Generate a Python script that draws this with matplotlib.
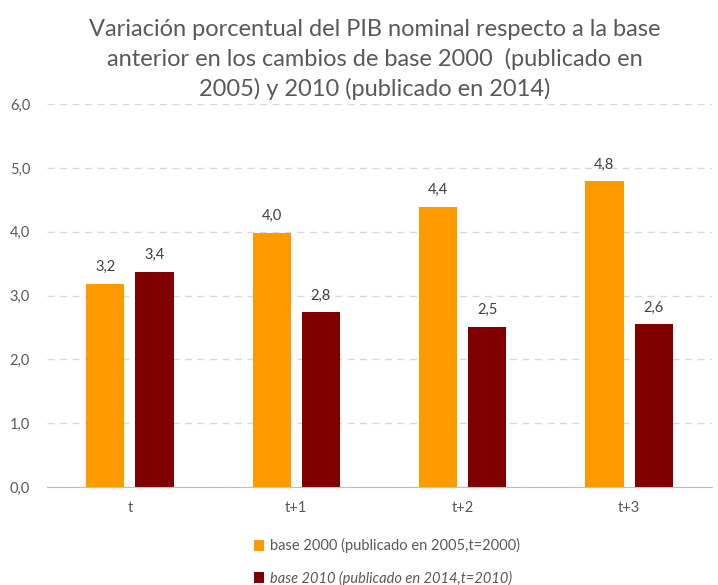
import numpy as np
import matplotlib.pyplot as plt
from matplotlib.ticker import FuncFormatter

plt.rcParams['font.family'] = ['Lato', 'DejaVu Sans']

# Datos
periodos = ['t', 't+1', 't+2', 't+3']
base_2000 = np.array([3.18, 3.98, 4.39, 4.79])
base_2010 = np.array([3.37, 2.74, 2.51, 2.55])
etiquetas_2000 = ['3,2', '4,0', '4,4', '4,8']
etiquetas_2010 = ['3,4', '2,8', '2,5', '2,6']

naranja = '#FF9900'
granate = '#800000'
gris_texto = '#595959'

fig = plt.figure(figsize=(7.18, 5.85), dpi=100)
ax = fig.add_axes([0.065, 0.1675, 0.927, 0.6545])

x = np.arange(len(periodos))
ancho = 0.23
desp = 0.148

b1 = ax.bar(x - desp, base_2000, ancho, color=naranja, zorder=3,
            label='base 2000 (publicado en 2005,t=2000)')
b2 = ax.bar(x + desp, base_2010, ancho, color=granate, zorder=3,
            label='base 2010 (publicado en 2014,t=2010)')

for rect, txt in zip(b1, etiquetas_2000):
    ax.annotate(txt, (rect.get_x() + rect.get_width() / 2, rect.get_height()),
                xytext=(0, 7), textcoords='offset points', ha='center', va='bottom',
                fontsize=10.5, color='#404040')
for rect, txt in zip(b2, etiquetas_2010):
    ax.annotate(txt, (rect.get_x() + rect.get_width() / 2, rect.get_height()),
                xytext=(0, 7), textcoords='offset points', ha='center', va='bottom',
                fontsize=10.5, color='#404040')

ax.set_xlim(-0.5, 3.5)
ax.set_ylim(0, 6)
ax.set_yticks(np.arange(0, 6.1, 1))
ax.yaxis.set_major_formatter(FuncFormatter(lambda v, p: f'{v:.1f}'.replace('.', ',')))
ax.set_xticks(x)
ax.set_xticklabels(periodos)
ax.tick_params(axis='both', length=0, labelsize=10.5, labelcolor=gris_texto)
ax.tick_params(axis='x', pad=10)
ax.tick_params(axis='y', pad=12)

ax.grid(axis='y', linestyle=(0, (5, 4)), color='#D9D9D9', linewidth=1, zorder=0)
for lado in ['top', 'right', 'left']:
    ax.spines[lado].set_visible(False)
ax.spines['bottom'].set_color('#BFBFBF')
ax.spines['bottom'].set_zorder(4)

fig.suptitle('Variación porcentual del PIB nominal respecto a la base\n'
             'anterior en los cambios de base 2000  (publicado en\n'
             '2005) y 2010 (publicado en 2014)',
             x=0.522, y=0.968, fontsize=17, color=gris_texto, linespacing=1.45)

leg = fig.legend(handles=[b1, b2], loc='upper left', bbox_to_anchor=(0.345, 0.09),
                 frameon=False, fontsize=10.5, handlelength=0.75, handleheight=0.75,
                 handletextpad=0.4, labelspacing=1.2, borderaxespad=0)
for t in leg.get_texts():
    t.set_color(gris_texto)
leg.get_texts()[1].set_fontstyle('italic')

fig.savefig('out.png', dpi=100)
